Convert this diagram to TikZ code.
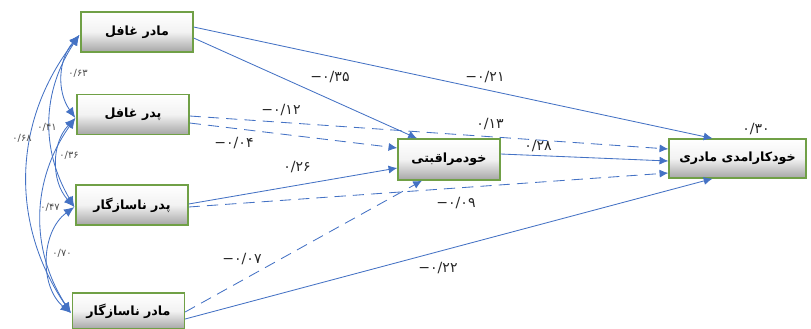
\documentclass[tikz,border=0pt]{standalone}
\usepackage{fontspec}
\usepackage{xcolor}
\usetikzlibrary{arrows.meta, calc}
\TeXXeTstate=1
\newfontfamily\farsi[Script=Arabic]{DejaVu Sans}
\newfontfamily\numfont{DejaVu Sans}
\definecolor{pathblue}{RGB}{68,114,196}
\definecolor{boxgreen}{RGB}{112,160,70}

\begin{document}
\begin{tikzpicture}[
    x=0.025cm, y=-0.025cm,
    var/.style={draw=boxgreen, line width=0.9pt, top color=white, bottom color=gray!70, middle color=gray!10, minimum width=2.8cm, minimum height=1cm, inner sep=0pt, font=\farsi\bfseries\fontsize{9}{10}\selectfont},
    flow/.style={-{Latex[length=2.2mm, width=2mm]}, line width=0.6pt, color=pathblue},
    dash_flow/.style={flow, dash pattern=on 8pt off 5pt},
    cov/.style={{Latex[length=2.6mm, width=2.2mm]}-{Latex[length=2.6mm, width=2.2mm]}, line width=0.6pt, color=pathblue},
    coef/.style={inner sep=1pt, font=\numfont\fontsize{10}{11}\selectfont, text=black!85},
    cov_lbl/.style={inner sep=0.5pt, font=\numfont\fontsize{7}{8}\selectfont, text=black!70},
]
    \useasboundingbox (0,0) rectangle (811,329);

    % 1. Exogenous variables
    \node[var] (mother_neg) at (137,32) {\beginR مادر غافل\endR};
    \node[var] (father_neg) at (133,114.5) {\beginR پدر غافل\endR};
    \node[var] (father_inc) at (132,205) {\beginR پدر ناسازگار\endR};
    \node[var, minimum height=0.9cm] (mother_inc) at (128.5,311) {\beginR مادر ناسازگار\endR};

    % 2. Mediator
    \node[var, minimum width=2.55cm, minimum height=1.025cm] (self_care) at (449,159.5) {\beginR خودمراقبتی\endR};

    % 3. Outcome
    \node[var, minimum width=3.425cm, minimum height=0.975cm] (self_eff) at (737.5,158.5) {\beginR خودکارامدی مادری\endR};

    % --- Connections ---

    % Mother neglect
    \draw[flow] ($(mother_neg.east)+(0,-5)$) -- ($(self_eff.north)+(-25,0)$);
    \draw[flow] ($(mother_neg.east)+(0,6)$) -- ($(self_care.north)+(-32,0)$);

    % Father neglect
    \draw[dash_flow] ($(father_neg.east)+(0,1.5)$) -- ($(self_eff.west)+(0,-9.5)$);
    \draw[dash_flow] ($(father_neg.east)+(0,8.5)$) -- ($(self_care.west)+(0,-11.5)$);

    % Father inconsistency
    \draw[flow] ($(father_inc.east)+(0,-1)$) -- ($(self_care.west)+(0,8.5)$);
    \draw[dash_flow] ($(father_inc.east)+(0,2)$) -- ($(self_eff.west)+(0,14.5)$);

    % Mother inconsistency
    \draw[dash_flow] ($(mother_inc.east)+(0,1)$) -- ($(self_care.south)+(-27,0)$);
    \draw[flow] ($(mother_inc.east)+(0,8)$) -- ($(self_eff.south)+(-25,0)$);

    % Mediator to outcome
    \draw[flow] ($(self_care.east)+(0,-5.5)$) -- ($(self_eff.west)+(0,2.5)$);

    % Covariances
    \coordinate (mn_tip) at ($(mother_neg.west)+(-1,3)$);
    \coordinate (fn_tip) at ($(father_neg.west)+(-1,3.5)$);
    \coordinate (fi_tip) at ($(father_inc.west)+(-1,2)$);
    \coordinate (mi_tip) at ($(mother_inc.west)+(-1,2)$);
    \draw[cov] (mn_tip) to[bend right=38] (fn_tip);
    \draw[cov] (mn_tip) to[bend right=32] (fi_tip);
    \draw[cov] (mn_tip) to[bend right=36] (mi_tip);
    \draw[cov] (fn_tip) to[bend right=43] (fi_tip);
    \draw[cov] (fn_tip) to[bend right=34] (mi_tip);
    \draw[cov] (fi_tip) to[bend right=52] (mi_tip);

    % --- Coefficients ---
    \node[coef] (c_mn_se) at (485,77) {−۰/۲۱};
    \node[coef] (c_mn_sc) at (330,77) {−۰/۳۵};
    \node[coef] (c_fn_se) at (281,110) {−۰/۱۲};
    \node[coef] (r_sc) at (490,124) {۰/۱۳};
    \node[coef] (c_fn_sc) at (234,143) {−۰/۰۴};
    \node[coef] (c_fi_sc) at (297,167) {۰/۲۶};
    \node[coef] (c_sc_se) at (538,146) {۰/۲۸};
    \node[coef] (c_fi_se) at (456,203) {−۰/۰۹};
    \node[coef] (c_mi_sc) at (242,259) {−۰/۰۷};
    \node[coef] (c_mi_se) at (438,268) {−۰/۲۲};
    \node[coef] (r_se) at (756,129) {۰/۳۰};

    \node[cov_lbl] (r_mn_fn) at (78,73) {۰/۶۳};
    \node[cov_lbl] (r_mn_fi) at (47,127) {۰/۴۱};
    \node[cov_lbl] (r_mn_mi) at (22,138) {۰/۶۸};
    \node[cov_lbl] (r_fn_fi) at (69,155) {۰/۳۶};
    \node[cov_lbl] (r_fn_mi) at (50,207) {۰/۴۷};
    \node[cov_lbl] (r_fi_mi) at (62,253) {۰/۷۰};

\end{tikzpicture}
\end{document}
